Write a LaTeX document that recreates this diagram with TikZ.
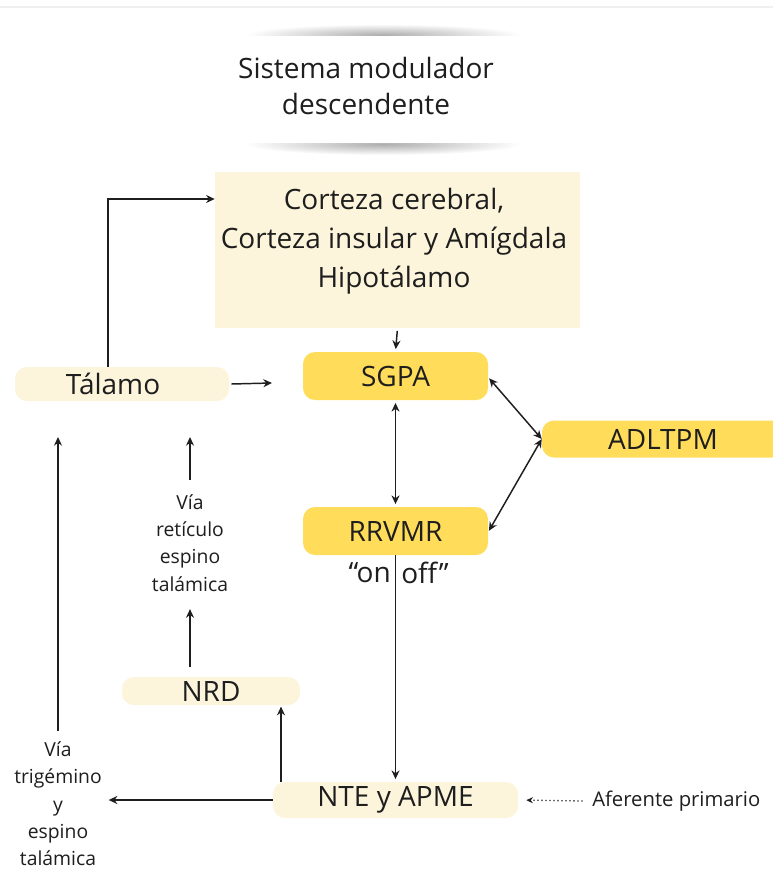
\documentclass[tikz,border=0pt]{standalone}
\usepackage{fontspec}
\setmainfont{Open Sans}
\usepackage{tikz}
\usetikzlibrary{arrows.meta,positioning}

\definecolor{crema}{HTML}{FCF5DB}
\definecolor{amarillo}{HTML}{FFDD5A}
\definecolor{tinta}{HTML}{1E1E1E}

\tikzset{
  caja/.style={fill=crema, inner sep=0pt, text=tinta, font=\fontsize{21}{24}\selectfont},
  pastilla/.style={caja, rounded corners=9pt},
  amarilla/.style={pastilla, fill=amarillo},
  rotulo/.style={align=center, text=tinta, inner sep=0pt, font=\fontsize{14.5}{20.5}\selectfont},
  flecha/.style={-{Stealth[length=6.5pt,width=6pt]}, line width=1.1pt, tinta},
  doble/.style={{Stealth[length=6.5pt,width=6pt]}-{Stealth[length=6.5pt,width=6pt]}, line width=1.1pt, tinta}
}

\begin{document}
\begin{tikzpicture}[x=0.75pt,y=-0.75pt]
\useasboundingbox (0,0) rectangle (773,896);
\fill[white] (0,0) rectangle (773,896);

% titulo
\draw[gray!12, line width=1.5pt] (0,7) -- (773,7);
\shade[inner color=black!32, outer color=white] (383,35) ellipse (138 and 11);
\shade[inner color=black!32, outer color=white] (383,144) ellipse (138 and 11);
\fill[white] (230,36) rectangle (536,143);
\node[rotulo, font=\fontsize{21}{27}\selectfont] (titulo) at (366,86) {Sistema modulador\\descendente};

% cajas
\node[caja, minimum width=365*0.75pt, minimum height=156*0.75pt] (corteza) at (397.5,250) {};
\node[rotulo, font=\fontsize{21}{29.3}\selectfont] (cortezatxt) at (394,241)
      {Corteza cerebral,\\Corteza insular y Amígdala\\Hipotálamo};
\node[amarilla, minimum width=185*0.75pt, minimum height=48*0.75pt] (sgpa) at (395.5,376) {SGPA};
\node[amarilla, minimum width=242*0.75pt, minimum height=37*0.75pt] (adltpm) at (663,439) {ADLTPM};
\node[amarilla, minimum width=185*0.75pt, minimum height=48*0.75pt] (rrvmr) at (395.5,531) {RRVMR};
\node[pastilla, minimum width=214*0.75pt, minimum height=34*0.75pt] (talamo) at (122,384) {};
\node[rotulo, font=\fontsize{21}{24}\selectfont] (talamotxt) at (113,384) {Tálamo};
\node[pastilla, minimum width=178*0.75pt, minimum height=28*0.75pt] (nrd) at (211,691) {NRD};
\node[pastilla, minimum width=245*0.75pt, minimum height=36*0.75pt] (nte) at (395.5,800) {NTE y APME};

% textos
\node[rotulo, font=\fontsize{21}{24}\selectfont, anchor=east] (on) at (391,573) {“on};
\node[rotulo, font=\fontsize{21}{24}\selectfont, anchor=west] (off) at (401,573) {off”};
\node[rotulo, font=\fontsize{15.2}{18}\selectfont, anchor=west] (aferente) at (592,801) {Aferente primario};
\node[rotulo, inner xsep=5pt] (via1) at (58,804) {Vía\\trigémino\\y\\espino\\talámica};
\node[rotulo] (via2) at (190,543) {Vía\\retículo\\espino\\talámica};

\coordinate (talin) at (272,383);
\coordinate (via2up) at (190,437);
\coordinate (via1up) at (58,437);

% conexiones
\draw[flecha, shorten <=2pt, shorten >=2pt] (corteza.south) -- (sgpa.north);
\draw[flecha] (talamo.east) ++(2,0) -- (talin);
\draw[flecha] (talamo.north -| 108,0) |- (corteza.west |- 0,199);
\draw[doble, shorten <=2pt, shorten >=2pt] (sgpa.south) -- (rrvmr.north);
\draw[doble, shorten <=1pt] ([yshift=-1pt]sgpa.east) -- (adltpm.west);
\draw[doble, shorten <=1pt] ([yshift=4pt]rrvmr.south east) ++(0,-18) -- (adltpm.west);
\draw[flecha, shorten >=2pt] (rrvmr.south) -- (nte.north);
\draw[flecha, shorten >=1pt] (nte.north -| 281,0) -- (nrd.south -| 281,0);
\draw[flecha] (nte.west) -- (nte.west -| via1.east);
\draw[flecha, shorten <=7pt, shorten >=13pt] (nrd.north -| via2.south) -- (via2.south);
\draw[flecha, shorten <=11pt] (via2.north) -- (via2up);
\draw[flecha, shorten <=8pt] (via1.north) -- (via1up);
\draw[-{Stealth[length=5pt,width=4.5pt]}, line width=1pt, dotted, tinta, shorten >=6pt] ([xshift=-7pt]aferente.west) -- (nte.east);
\end{tikzpicture}
\end{document}
